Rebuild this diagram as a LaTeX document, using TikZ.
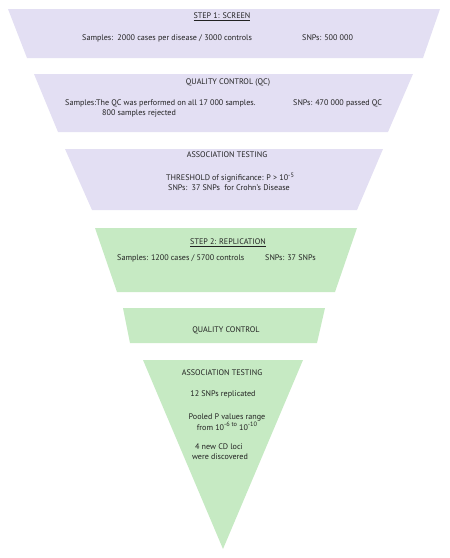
\documentclass[tikz,border=0pt]{standalone}
\usepackage{fontspec}
\setmainfont{PT Sans}
\newcommand{\supx}[1]{\raisebox{0.45em}{\fontsize{6.3}{7}\selectfont #1}}
\begin{document}
\begin{tikzpicture}[x=1pt,y=-1pt,
  lav/.style={fill=lavfill},
  grn/.style={fill=grnfill},
  txt/.style={inner sep=0pt,font=\fontsize{8.1}{9}\selectfont,text=txtcol},
  ]
\definecolor{lavfill}{HTML}{E3DFF3}
\definecolor{grnfill}{HTML}{C6EAC3}
\definecolor{txtcol}{HTML}{222222}
\useasboundingbox (0,0) rectangle (450,558);
% funnel stages
\fill[lav] (8,9) -- (440,9) -- (423,58) -- (27,58) -- cycle;
\fill[lav] (34,74) -- (413,74) -- (388,132) -- (58,132) -- cycle;
\fill[lav] (65,149) -- (383,149) -- (357,210) -- (92,210) -- cycle;
\fill[grn] (95,228) -- (357,228) -- (335,292) -- (117,292) -- cycle;
\fill[grn] (123,308) -- (325,308) -- (317,343) -- (130,343) -- cycle;
\fill[grn] (143,360) -- (303,360) -- (223,549) -- cycle;
% texts
\node[txt] (s1) at (222,17) {\underline{STEP 1: SCREEN}};
\node[txt,anchor=west] (s1a) at (82,38) {Samples:\ \ 2000 cases per disease / 3000 controls};
\node[txt,anchor=west] (s1b) at (302,38) {SNPs: 500 000};
\node[txt] (qc) at (228,83) {QUALITY CONTROL (QC)};
\node[txt,anchor=west] (qca) at (65,103) {Samples:The QC was performed on all 17 000 samples.};
\node[txt,anchor=west] (qcb) at (102,113) {800 samples rejected};
\node[txt,anchor=west] (qcc) at (293,103) {SNPs: 470 000 passed QC};
\node[txt] (at) at (227,155) {ASSOCIATION TESTING};
\node[txt,anchor=west] (ata) at (166,177.5) {THRESHOLD of significance: P > 10\supx{-5}};
\node[txt,anchor=west] (atb) at (168,188) {SNPs:\ \ 37 SNPs\ \ for Crohn’s Disease};
\node[txt] (s2) at (228,243) {\underline{STEP 2: REPLICATION}};
\node[txt,anchor=west] (s2a) at (117,258) {Samples: 1200 cases / 5700 controls};
\node[txt,anchor=west] (s2b) at (265,258) {SNPs: 37 SNPs};
\node[txt] (qc2) at (226,330) {QUALITY CONTROL};
\node[txt] (at2) at (222,373) {ASSOCIATION TESTING};
\node[txt] (r1) at (223,394) {12 SNPs replicated};
\node[txt] (r2) at (227,417) {Pooled P values range};
\node[txt] (r3) at (227,426) {from 10\supx{-6 to} 10\supx{-10}};
\node[txt] (r4) at (219,447) {4 new CD loci};
\node[txt] (r5) at (220,457) {were discovered};
\end{tikzpicture}
\end{document}
